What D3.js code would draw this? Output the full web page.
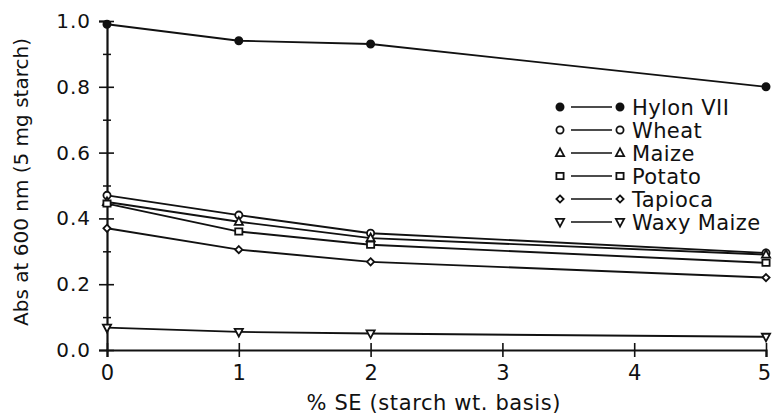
<!DOCTYPE html>
<html>
<head>
<meta charset="utf-8">
<script src="https://cdn.jsdelivr.net/npm/d3@7"></script>
<style>
  body { margin: 0; background: #fff; }
  svg text { font-family: "DejaVu Sans", sans-serif; fill: #111; }
</style>
</head>
<body>
<div id="chart"></div>
<script>
// data
const seLevels = [0, 1, 2, 5];
const seriesNames = ["Hylon VII", "Wheat", "Maize", "Potato", "Tapioca", "Waxy Maize"];
const hylon = [0.99, 0.94, 0.93, 0.80];
const wheat = [0.47, 0.41, 0.355, 0.295];
const maize = [0.45, 0.39, 0.34, 0.29];
const potato = [0.445, 0.36, 0.32, 0.265];
const tapioca = [0.37, 0.305, 0.268, 0.22];
const waxyMaize = [0.068, 0.055, 0.05, 0.04];
const xTicks = [0, 1, 2, 3, 4, 5];
const yTicks = [0, 0.2, 0.4, 0.6, 0.8, 1.0];
const yMinor = [0.1, 0.3, 0.5, 0.7, 0.9];

const seriesValues = [hylon, wheat, maize, potato, tapioca, waxyMaize];
const markers = ["dot", "circle", "triangle", "square", "diamond", "down"];

const width = 773, height = 417;
const svg = d3.select("#chart").append("svg")
  .attr("width", width).attr("height", height);

const x = d3.scaleLinear().domain([0, 5]).range([107, 766]);
const y = d3.scaleLinear().domain([0, 1]).range([350, 21]);

// draw a marker at (cx, cy)
function marker(g, type, cx, cy) {
  const r = 3.6;
  if (type === "dot" || type === "circle") {
    g.append("circle").attr("cx", cx).attr("cy", cy).attr("r", r)
      .attr("fill", type === "dot" ? "#111" : "#fff")
      .attr("stroke", "#111").attr("stroke-width", 1.8);
  } else {
    let pts;
    if (type === "triangle") pts = [[0, -r - 1], [r + 0.5, r - 0.5], [-r - 0.5, r - 0.5]];
    if (type === "down") pts = [[0, r + 1], [r + 0.5, -r + 0.5], [-r - 0.5, -r + 0.5]];
    if (type === "square") pts = [[-r, -r + 0.5], [r, -r + 0.5], [r, r - 0.5], [-r, r - 0.5]];
    if (type === "diamond") pts = [[0, -r], [r, 0], [0, r], [-r, 0]];
    g.append("polygon")
      .attr("points", pts.map(p => (cx + p[0]) + "," + (cy + p[1])).join(" "))
      .attr("fill", "#fff").attr("stroke", "#111").attr("stroke-width", 1.8);
  }
}

// Y axis: major ticks crossing the line
const yAxis = svg.append("g").attr("transform", "translate(" + x(0) + ",0)")
  .call(d3.axisLeft(y).tickValues(yTicks).tickFormat(d3.format(".1f"))
    .tickSize(8).tickPadding(8));
yAxis.select(".domain").attr("stroke", "#111").attr("stroke-width", 2.2);
yAxis.selectAll(".tick line").attr("x1", 7).attr("stroke", "#111").attr("stroke-width", 1.6);
yAxis.selectAll(".tick text").style("font-size", "20px").style("letter-spacing", "1px").attr("fill", "#111");

// minor ticks
const yMin = svg.append("g").attr("transform", "translate(" + x(0) + ",0)")
  .call(d3.axisLeft(y).tickValues(yMinor).tickFormat("").tickSize(4));
yMin.select(".domain").remove();
yMin.selectAll(".tick line").attr("x1", 4).attr("stroke", "#111").attr("stroke-width", 1.5);

// X axis
const xAxis = svg.append("g").attr("transform", "translate(0," + y(0) + ")")
  .call(d3.axisBottom(x).tickValues(xTicks).tickFormat(d3.format("d"))
    .tickSize(7).tickPadding(8));
xAxis.select(".domain").attr("stroke", "#111").attr("stroke-width", 2.2);
xAxis.selectAll(".tick line").attr("y1", -7).attr("stroke", "#111").attr("stroke-width", 1.6);
xAxis.selectAll(".tick text").style("font-size", "21px").attr("fill", "#111")
  .attr("dx", d => d === 5 ? "-0.1em" : 0);

// axis titles
svg.append("text")
  .attr("x", x(2.48)).attr("y", 410)
  .style("text-anchor", "middle").style("font-size", "21px")
  .style("letter-spacing", "0.6px")
  .text("% SE (starch wt. basis)");

svg.append("text")
  .attr("transform", "translate(28,182) rotate(-90)")
  .style("text-anchor", "middle").style("font-size", "20px")
  .text("Abs at 600 nm (5 mg starch)");

// series lines and markers
const line = d3.line().x((d, i) => x(seLevels[i])).y(d => y(d));
seriesValues.forEach((vals, k) => {
  svg.append("path").datum(vals)
    .attr("d", line)
    .attr("fill", "none").attr("stroke", "#111").attr("stroke-width", 1.9);
});
seriesValues.forEach((vals, k) => {
  const g = svg.append("g");
  vals.forEach((v, i) => marker(g, markers[k], x(seLevels[i]), y(v)));
});

// legend
const legendY = d3.scalePoint().domain(seriesNames).range([107, 222]);
seriesNames.forEach((name, k) => {
  const g = svg.append("g");
  const cy = legendY(name);
  marker(g, markers[k], 560, cy);
  g.append("line").attr("x1", 571).attr("x2", 612).attr("y1", cy).attr("y2", cy)
    .attr("stroke", "#111").attr("stroke-width", 1.6);
  marker(g, markers[k], 620, cy);
  g.append("text").attr("x", 632).attr("y", cy).attr("dy", "0.36em")
    .style("font-size", "21px").style("letter-spacing", "0.4px")
    .text(name);
});
</script>
</body>
</html>
